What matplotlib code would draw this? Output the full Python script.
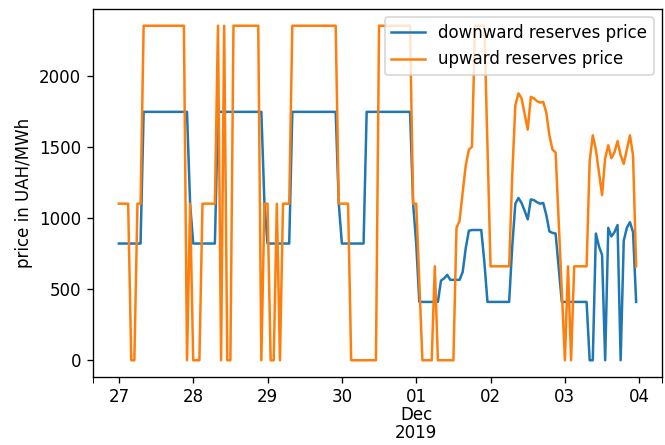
import pandas as pd
import matplotlib
matplotlib.use('Agg')
import matplotlib.pyplot as plt

# hourly prices, 27 Nov 2019 00:00 .. 3 Dec 2019 23:00
down_nov27 = [820, 820, 820, 820, 820, 820, 820, 820, 1745, 1745, 1745, 1745,
              1745, 1745, 1745, 1745, 1745, 1745, 1745, 1745, 1745, 1745, 1745, 1100]
down_nov28 = [820, 820, 820, 820, 820, 820, 820, 820, 1745, 1745, 1745, 1745,
              1745, 1745, 1745, 1745, 1745, 1745, 1745, 1745, 1745, 1745, 1745, 1100]
down_nov29 = [820, 820, 820, 820, 820, 820, 820, 820, 1745, 1745, 1745, 1745,
              1745, 1745, 1745, 1745, 1745, 1745, 1745, 1745, 1745, 1745, 1745, 1100]
down_nov30 = [820, 820, 820, 820, 820, 820, 820, 820, 1745, 1745, 1745, 1745,
              1745, 1745, 1745, 1745, 1745, 1745, 1745, 1745, 1745, 1745, 1745, 1100]
down_dec01 = [820, 410, 410, 410, 410, 410, 410, 410, 560, 575, 600, 565,
              565, 565, 565, 620, 790, 910, 915, 915, 915, 915, 690, 410]
down_dec02 = [410, 410, 410, 410, 410, 410, 410, 800, 1100, 1140, 1105, 1050,
              990, 1130, 1125, 1110, 1100, 1105, 1020, 905, 895, 890, 650, 410]
down_dec03 = [410, 410, 410, 410, 410, 410, 410, 410, 0, 0, 890, 800,
              740, 0, 930, 870, 900, 950, 0, 840, 930, 970, 900, 410]

up_nov27 = [1100, 1100, 1100, 1100, 0, 0, 1100, 1100, 2350, 2350, 2350, 2350,
            2350, 2350, 2350, 2350, 2350, 2350, 2350, 2350, 2350, 2350, 0, 1100]
up_nov28 = [0, 0, 0, 1100, 1100, 1100, 1100, 1100, 2350, 0, 2350, 0,
            0, 2350, 2350, 2350, 2350, 2350, 2350, 2350, 2350, 2350, 0, 1100]
up_nov29 = [1100, 0, 0, 1100, 0, 1100, 1100, 1100, 2350, 2350, 2350, 2350,
            2350, 2350, 2350, 2350, 2350, 2350, 2350, 2350, 2350, 2350, 2350, 1100]
up_nov30 = [1100, 1100, 1100, 0, 0, 0, 0, 0, 0, 0, 0, 0,
            2350, 2350, 2350, 2350, 2350, 2350, 2350, 2350, 2350, 2350, 2350, 1100]
up_dec01 = [1100, 550, 0, 0, 0, 0, 660, 0, 0, 0, 0, 0,
            0, 930, 980, 1180, 1370, 1480, 1500, 2350, 2350, 2350, 2350, 1500]
up_dec02 = [660, 660, 660, 660, 660, 660, 660, 1300, 1790, 1875, 1840, 1730,
            1620, 1850, 1840, 1820, 1810, 1815, 1740, 1580, 1480, 1460, 970, 480]
up_dec03 = [0, 660, 0, 660, 660, 660, 660, 660, 1400, 1580, 1480, 1320,
            1160, 1420, 1510, 1420, 1460, 1540, 1440, 1380, 1480, 1580, 1440, 660]

down = down_nov27 + down_nov28 + down_nov29 + down_nov30 + down_dec01 + down_dec02 + down_dec03
up = up_nov27 + up_nov28 + up_nov29 + up_nov30 + up_dec01 + up_dec02 + up_dec03

day_labels = ['27', '28', '29', '30', '01\nDec\n2019', '02', '03', '04']

times = pd.date_range('2019-11-27 00:00', periods=len(down), freq='h')
tick_days = pd.date_range('2019-11-27', periods=len(day_labels), freq='D')

fig = plt.figure(figsize=(665 / 120, 445 / 120), dpi=120)
ax = fig.add_axes([93 / 665, 68 / 445, 569 / 665, 368 / 445])

ax.plot(times, down, color='#1f77b4', label='downward reserves price')
ax.plot(times, up, color='#ff7f0e', label='upward reserves price')

ax.set_ylabel('price in UAH/MWh')
ax.set_xticks(tick_days)
ax.set_xticklabels(day_labels, linespacing=1.0)
ax.tick_params(axis='x', which='major', pad=3)

xmin, xmax = ax.get_xlim()
ax.set_xticks([xmin, xmax], minor=True)
ax.tick_params(axis='x', which='minor', length=3.5)
ax.set_xlim(xmin, xmax)

ax.legend(loc='upper right')

fig.savefig('out.png', dpi=120)
